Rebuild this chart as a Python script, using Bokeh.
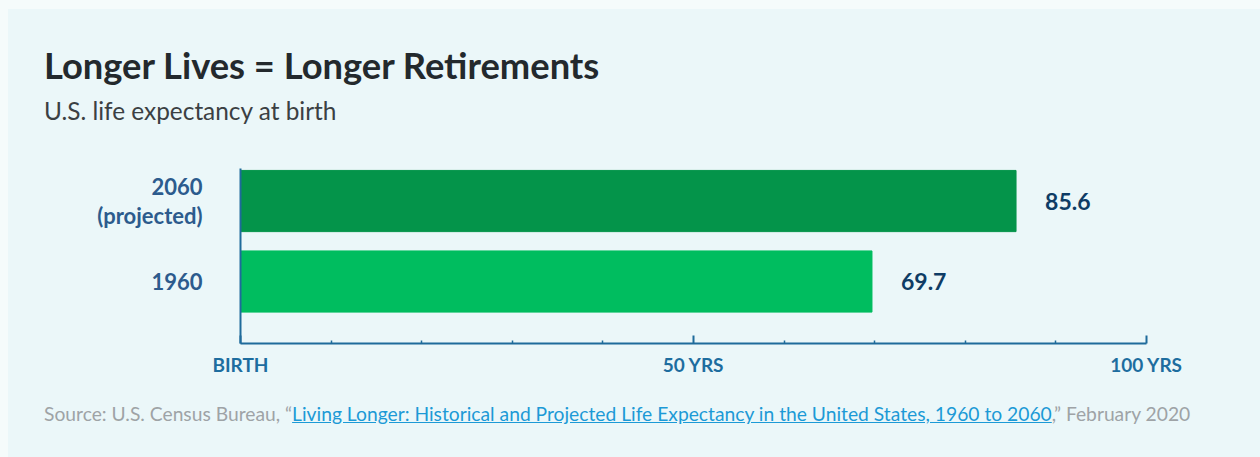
from bokeh.plotting import figure
from bokeh.models import Range1d, FixedTicker, ColumnDataSource, Div
from bokeh.layouts import column
from bokeh.core.properties import value
from bokeh.embed import file_html
from bokeh.resources import INLINE

# ---- data ----
categories = ["1960", "2060\n(projected)"]
positions = [0, 1]
life_expectancy = [69.7, 85.6]
value_labels = ["69.7", "85.6"]
bar_colors = ["#00bd5f", "#04944a"]
x_ticks = [0, 50, 100]
x_tick_labels = ["BIRTH", "50 YRS", "100 YRS"]
minor_ticks = [10, 20, 30, 40, 60, 70, 80, 90]

title_text = "Longer Lives = Longer Retirements"
subtitle_text = "U.S. life expectancy at birth"
src_pre = "Source: U.S. Census Bureau, \u201c"
src_link = "Living Longer: Historical and Projected Life Expectancy in the United States, 1960 to 2060"
src_post = ",\u201d February 2020"

PANEL = "#ebf7f9"
OUTER = "#f5fbfb"
FONT = "Lato"
W = 1252

# ---- header ----
header_html = f"""
<div style="position:relative;width:{W}px;height:130px;font-family:{FONT};">
  <div style="position:absolute;left:36px;top:35px;font-size:36.3px;line-height:1.2;font-weight:bold;color:#23292d;white-space:nowrap;">{title_text}</div>
  <div style="position:absolute;left:36px;top:87px;font-size:24.4px;line-height:1.2;color:#3b4043;white-space:nowrap;">{subtitle_text}</div>
</div>"""
header = Div(text=header_html, width=W, height=130, margin=0)

# ---- chart ----
p = figure(width=W, height=251, output_backend="svg", toolbar_location=None,
           x_range=Range1d(0, 100), y_range=Range1d(-0.77, 1.404),
           min_border_left=232, min_border_right=114,
           min_border_top=29, min_border_bottom=47, margin=0)
p.background_fill_color = PANEL
p.border_fill_color = PANEL
p.outline_line_color = None
p.grid.visible = False

src = ColumnDataSource(dict(y=positions, v=life_expectancy, lab=value_labels, c=bar_colors))
p.hbar(y="y", left=0, right="v", height=0.76, color="c", source=src)
p.text(x="v", y="y", text="lab", source=src, x_offset=29,
       text_baseline="middle", text_align="left",
       text_font=value(FONT), text_font_style="bold", text_font_size="23px",
       text_color="#0e3c65")

AX = "#1f6b9b"
xa = p.xaxis[0]
xa.ticker = FixedTicker(ticks=x_ticks, minor_ticks=minor_ticks)
xa.major_label_overrides = {t: l for t, l in zip(x_ticks, x_tick_labels)}
xa.axis_line_color = AX
xa.axis_line_width = 2
xa.major_tick_line_color = AX
xa.minor_tick_line_color = AX
xa.major_tick_line_width = 2
xa.minor_tick_line_width = 1.5
xa.major_tick_in = 8
xa.major_tick_out = 0
xa.minor_tick_in = 3
xa.minor_tick_out = 0
xa.major_label_standoff = 9
xa.major_label_text_font = FONT
xa.major_label_text_font_style = "bold"
xa.major_label_text_font_size = "19px"
xa.major_label_text_color = "#1d6d9f"

ya = p.yaxis[0]
ya.ticker = FixedTicker(ticks=positions)
ya.major_label_overrides = {t: l for t, l in zip(positions, categories)}
ya.axis_line_color = AX
ya.axis_line_width = 2
ya.major_tick_line_color = None
ya.minor_tick_line_color = None
ya.major_tick_out = 0
ya.major_tick_in = 0
ya.major_label_standoff = 38
ya.major_label_text_font = FONT
ya.major_label_text_font_style = "bold"
ya.major_label_text_font_size = "22px"
ya.major_label_text_color = "#2c5b8d"
ya.major_label_text_line_height = 1.05

# ---- footer ----
footer_html = f"""
<div style="position:relative;width:{W}px;height:67px;font-family:{FONT};">
  <div style="position:absolute;left:36px;top:12px;font-size:19.25px;line-height:1.2;color:#9ea3a6;white-space:nowrap;">{src_pre}<a href="#" style="color:#1c9ad6;text-decoration:underline;">{src_link}</a>{src_post}</div>
</div>"""
footer = Div(text=footer_html, width=W, height=67, margin=0)

inner = column(header, p, footer, width=W, height=448, spacing=0, margin=(9, 0, 0, 8),
               styles={"background-color": PANEL})
layout = column(inner, width=1260, height=457, spacing=0, margin=0,
                styles={"background-color": OUTER})
open("out.html", "w").write(file_html(layout, INLINE))
